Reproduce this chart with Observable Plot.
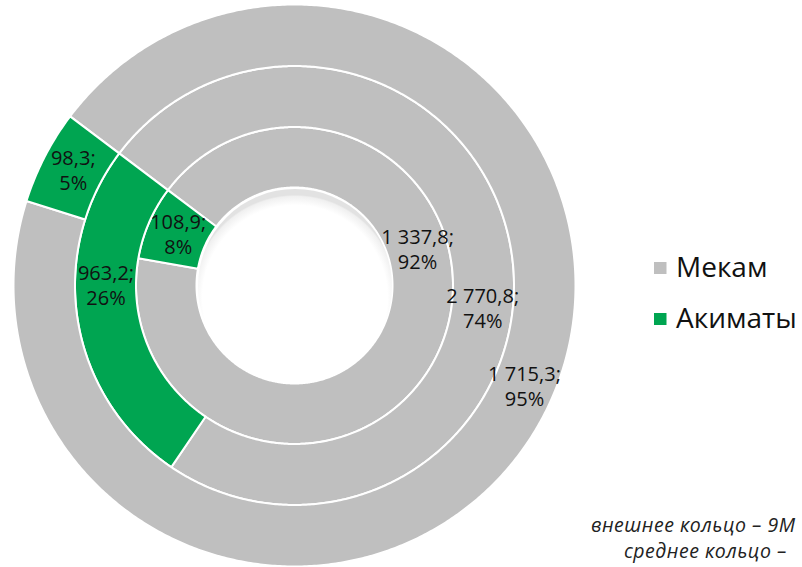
<!DOCTYPE html>
<html><head><meta charset="utf-8">
<script src="https://cdn.jsdelivr.net/npm/d3@7"></script>
<script src="https://cdn.jsdelivr.net/npm/@observablehq/plot@0.6"></script>
<style>
body{margin:0;background:#fff;font-family:"Open Sans",sans-serif}
#chart{width:802px;height:567px;overflow:hidden}
</style>
</head><body><div id="chart"></div>
<script>
// ---- data ----
const categories = ["Мекам", "Акиматы"];
const innerValues = [1337.8, 108.9];   // внутреннее кольцо
const middleValues = [2770.8, 963.2];  // среднее кольцо
const outerValues = [1715.3, 98.3];    // внешнее кольцо
const captionLines = ["внешнее кольцо – 9М", "среднее кольцо –"];

// ---- style / layout ----
const colors = ["#bfbfbf", "#00a551"];
const W = 802, H = 567, cx = 294.5, cy = 285.5;
const radii = [98, 158.5, 219.5, 281];
const startDeg = 307;
const labelFrac = [[0.378, 0.535], [0.56, 0.607], [0.489, 0.52]];

const rings = [innerValues, middleValues, outerValues];
const loc = d3.formatLocale({decimal: ",", thousands: "\u00a0", grouping: [3], currency: ["", ""]});
const fmt = loc.format(",.1f");

const pts = [], labels = [];
rings.forEach((vals, ri) => {
  const total = d3.sum(vals);
  const pie = d3.pie().sort(null).startAngle(startDeg * Math.PI / 180).endAngle(startDeg * Math.PI / 180 + 2 * Math.PI);
  const arcs = pie(vals);
  const r0 = radii[ri], r1 = radii[ri + 1];
  arcs.forEach((a, ci) => {
    const id = ri + "-" + ci;
    const n = Math.max(2, Math.ceil((a.endAngle - a.startAngle) / (Math.PI / 360)) + 1);
    for (let k = 0; k < n; k++) {
      const t = a.startAngle + (a.endAngle - a.startAngle) * k / (n - 1);
      pts.push({id, cat: categories[ci], xo: r1 * Math.sin(t), yo: r1 * Math.cos(t), xi: r0 * Math.sin(t), yi: r0 * Math.cos(t)});
    }
    const la = a.startAngle + (a.endAngle - a.startAngle) * labelFrac[ri][ci];
    const lr = (r0 + r1) / 2;
    labels.push({x: lr * Math.sin(la), y: lr * Math.cos(la),
      text: fmt(vals[ci]) + ";\n" + Math.round(vals[ci] / total * 100) + "%"});
  });
});

const legend = categories.map((c, i) => ({cat: c, y: 17.5 - i * 51}));
const caption = captionLines.map((t, i) => ({t, x: 296 + i * 33, y: -239.5 - i * 26}));

const chart = Plot.plot({
  width: W, height: H,
  margin: 0,
  style: {fontFamily: "Open Sans, sans-serif", background: "white"},
  x: {domain: [-cx, W - cx], range: [0, W], axis: null},
  y: {domain: [cy, cy - H], range: [0, H], axis: null},
  color: {domain: categories, range: colors},
  marks: [
    Plot.area(pts, {x1: "xo", y1: "yo", x2: "xi", y2: "yi", z: "id", fill: "cat", stroke: "white", strokeWidth: 2, curve: "linear"}),
    Plot.dot([0], {x: () => 0, y: () => 0, r: radii[0] - 1, fill: "url(#holeShade)", stroke: "none"}),
    Plot.text(labels, {x: "x", y: "y", text: "text", fontSize: 20, lineHeight: 1.25, fill: "#111"}),
    Plot.rect(legend, {x1: 359.5, x2: 372, y1: d => d.y - 6, y2: d => d.y + 6, fill: "cat"}),
    Plot.text(legend, {x: 381, y: "y", text: "cat", textAnchor: "start", fontSize: 28, fill: "#111"}),
    Plot.text(caption, {x: "x", y: "y", text: "t", textAnchor: "start", fontSize: 19.5, fontStyle: "italic", fill: "#222"})
  ]
});

const svg = d3.select(chart);
svg.selectAll("text").filter(function() { return captionLines.includes(this.textContent); })
  .attr("letter-spacing", "0.5px").style("letter-spacing", "0.5px");
const g = svg.insert("defs", ":first-child").append("radialGradient").attr("id", "holeShade")
  .attr("cx", "0.5").attr("cy", "0.56").attr("r", "0.53");
g.append("stop").attr("offset", "0.9").attr("stop-color", "#ffffff");
g.append("stop").attr("offset", "0.985").attr("stop-color", "#f0f0f0");
g.append("stop").attr("offset", "1").attr("stop-color", "#e2e2e2");
document.getElementById("chart").appendChild(chart);
</script>
</body></html>
